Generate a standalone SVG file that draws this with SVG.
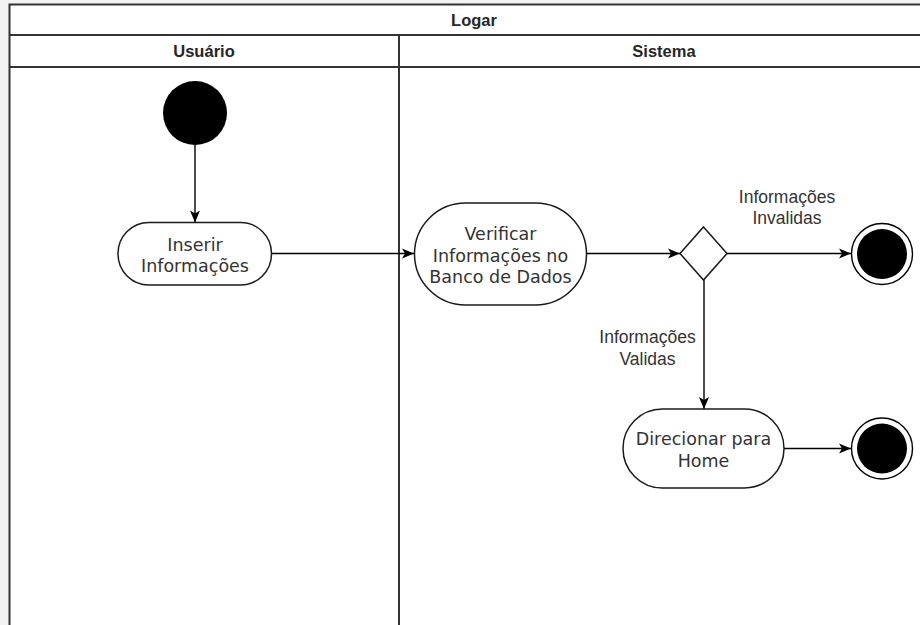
<svg xmlns="http://www.w3.org/2000/svg" width="920" height="625" viewBox="0 0 920 625">
  <style>
    .pool { fill: #ffffff; stroke: #333333; stroke-width: 2; }
    .sep { stroke: #333333; stroke-width: 2; fill: none; }
    .hdr { font-family: "Liberation Sans", Arial, sans-serif; font-weight: bold; font-size: 16.5px; fill: #262626; text-anchor: middle; }
    .act { fill: #ffffff; stroke: #1a1a1a; stroke-width: 1.5; }
    .atxt { font-family: "DejaVu Sans", Verdana, sans-serif; font-size: 17.5px; fill: #333333; text-anchor: middle; }
    .lbl { font-family: "Liberation Sans", Arial, sans-serif; font-size: 17.5px; fill: #333333; text-anchor: middle; }
    .edge { stroke: #000000; stroke-width: 1.4; fill: none; marker-end: url(#arrow); }
    .dot { fill: #000000; }
    .ring { fill: #ffffff; stroke: #000000; stroke-width: 1.4; }
  </style>
  <defs>
    <marker id="arrow" viewBox="0 0 10 10" refX="10" refY="5" markerWidth="12" markerHeight="12" markerUnits="userSpaceOnUse" orient="auto">
      <path d="M0,0.8 L10,5 L0,9.2 L2.5,5 Z" fill="#000000"/>
    </marker>
  </defs>

  <!-- canvas background -->
  <rect x="0" y="0" width="920" height="625" fill="#f3f3f3"/>

  <!-- swimlane pool -->
  <g id="pool">
    <rect class="pool" x="9.5" y="4.5" width="930" height="640"/>
    <line class="sep" x1="9.5" y1="35" x2="930" y2="35"/>
    <line class="sep" x1="9.5" y1="67" x2="930" y2="67"/>
    <line class="sep" x1="399" y1="35" x2="399" y2="640"/>
    <text class="hdr" x="474" y="25.5">Logar</text>
    <text class="hdr" x="204" y="57">Usuário</text>
    <text class="hdr" x="664" y="57">Sistema</text>
  </g>

  <!-- connectors -->
  <g id="connectors">
    <line class="edge" x1="195" y1="145" x2="195" y2="222.5"/>
    <line class="edge" x1="271.5" y1="253.5" x2="414" y2="253.5"/>
    <line class="edge" x1="587" y1="253.5" x2="680" y2="253.5"/>
    <line class="edge" x1="727" y1="253.5" x2="851" y2="253.5"/>
    <line class="edge" x1="704" y1="280" x2="704" y2="409"/>
    <line class="edge" x1="784" y1="448.5" x2="851" y2="448.5"/>
    <text class="lbl" x="787" y="203">Informações</text>
    <text class="lbl" x="787" y="224">Invalidas</text>
    <text class="lbl" x="647.5" y="343">Informações</text>
    <text class="lbl" x="647.5" y="364.5">Validas</text>
  </g>

  <!-- initial state -->
  <g id="start">
    <circle class="dot" cx="195" cy="113" r="32"/>
  </g>

  <g id="inserir">
    <rect class="act" x="118" y="222.5" width="153.5" height="62.5" rx="31" ry="31"/>
    <text class="atxt" x="195" y="251">Inserir</text>
    <text class="atxt" x="195" y="272">Informações</text>
  </g>

  <g id="verificar">
    <rect class="act" x="414.5" y="203" width="172" height="102" rx="51" ry="51"/>
    <text class="atxt" x="500.5" y="240">Verificar</text>
    <text class="atxt" x="500.5" y="261.5">Informações no</text>
    <text class="atxt" x="500.5" y="283">Banco de Dados</text>
  </g>

  <!-- decision -->
  <g id="decisao">
    <polygon class="act" points="703.5,227 727,253.5 703.5,280 680,253.5"/>
  </g>

  <g id="fim-invalidas">
    <circle class="ring" cx="882" cy="254" r="30.5"/>
    <circle class="dot" cx="882" cy="254" r="25"/>
  </g>

  <g id="direcionar">
    <rect class="act" x="623" y="409" width="161" height="79" rx="39.5" ry="39.5"/>
    <text class="atxt" x="703.5" y="445">Direcionar para</text>
    <text class="atxt" x="703.5" y="466.5">Home</text>
  </g>

  <g id="fim-validas">
    <circle class="ring" cx="882" cy="448.5" r="30.5"/>
    <circle class="dot" cx="882" cy="448.5" r="25"/>
  </g>
</svg>
